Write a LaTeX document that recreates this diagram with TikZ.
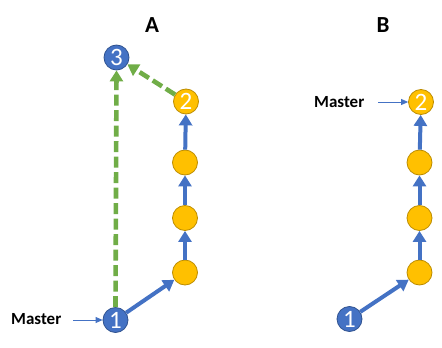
\documentclass[tikz,border=0pt]{standalone}
\usepackage{fontspec}
\setmainfont{Carlito}
\usetikzlibrary{arrows.meta,positioning}
\definecolor{cblue}{RGB}{68,114,196}
\definecolor{cbluebdr}{RGB}{47,82,143}
\definecolor{cyell}{RGB}{255,192,0}
\definecolor{cyellbdr}{RGB}{188,140,0}
\definecolor{cgreen}{RGB}{112,173,71}
\tikzset{
  %% blue commit (1, 3)
  bcom/.style={circle,draw=cbluebdr,line width=0.8pt,fill=cblue,
    minimum size=25pt,inner sep=0pt,text=white,font=\fontsize{25}{25}\selectfont},
  %% yellow commit
  ycom/.style={circle,draw=cyellbdr,line width=0.8pt,fill=cyell,
    minimum size=25pt,inner sep=0pt,text=white,font=\fontsize{25}{25}\selectfont},
  %% panel title
  ttl/.style={font=\fontsize{23}{23}\selectfont\bfseries},
  %% branch pointer label
  ptr/.style={font=\fontsize{17}{17}\selectfont\bfseries,inner sep=0pt},
  %% arrows
  parr/.style={-{Triangle[length=11pt,width=13pt]},line width=4pt,color=cblue},
  garr/.style={-{Triangle[length=11pt,width=13pt]},line width=4.6pt,color=cgreen,
    dash pattern=on 11pt off 4.5pt},
  marr/.style={-{Triangle[length=7pt,width=6pt]},line width=0.8pt,color=cblue},
}
\begin{document}
\begin{tikzpicture}[x=1pt,y=-1pt]
  \useasboundingbox (0,0) rectangle (442,348);
  %% panel A
  \node[ttl] (tA) at (152,25) {A};
  \node[bcom] (a3) at (116.5,57.5) {3};
  \node[ycom] (a2) at (186,101.5) {2};
  \node[ycom] (ay3) at (185,162.5) {};
  \node[ycom] (ay2) at (185,218) {};
  \node[ycom] (ay1) at (185,272.5) {};
  \node[bcom] (a1) at (115.5,320) {1};
  \node[ptr,anchor=west] (mA) at (11,319.5) {Master};
  \coordinate (mAs) at (73,320);
  \draw[parr] (a1) -- (ay1);
  \draw[parr] (ay1) -- (ay2);
  \draw[parr] (ay2) -- (ay3);
  \draw[parr] (ay3) -- (a2);
  \draw[garr] (a1.north) -- (a3.south);
  \draw[garr] (a2) -- (a3);
  \draw[marr] (mAs) -- (a1);
  %% panel B
  \node[ttl] (tB) at (383,25) {B};
  \node[ycom] (b2) at (421,102) {2};
  \node[ycom] (by3) at (419.5,162.5) {};
  \node[ycom] (by2) at (419.5,218) {};
  \node[ycom] (by1) at (419.5,272.5) {};
  \node[bcom] (b1) at (349.5,319) {1};
  \node[ptr,anchor=west] (mB) at (314,102) {Master};
  \coordinate (mBs) at (378,102);
  \draw[parr] (b1) -- (by1);
  \draw[parr] (by1) -- (by2);
  \draw[parr] (by2) -- (by3);
  \draw[parr] (by3) -- (b2);
  \draw[marr] (mBs) -- (b2);
\end{tikzpicture}
\end{document}
